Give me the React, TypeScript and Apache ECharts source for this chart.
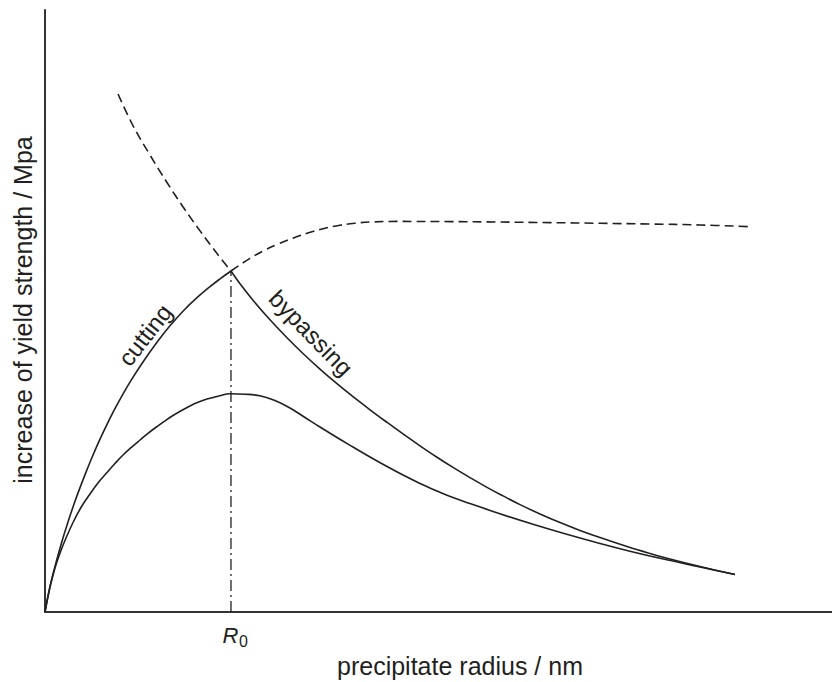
import React, { useEffect, useRef } from "react";
import * as echarts from "echarts";

// Critical radius where the cutting and bypassing mechanisms meet
const R0 = 23.63;
const PEAK = 56.64;

// Shearing (cutting) mechanism, solid up to R0
const cutting: number[][] = [
  [0, 0], [0.64, 4.27], [1.4, 8.21], [2.16, 11.76], [2.8, 14.47], [3.68, 17.91],
  [4.45, 20.66], [5.34, 23.65], [6.1, 26.08], [6.99, 28.72], [7.88, 31.18], [8.64, 33.16],
  [9.53, 35.33], [11.05, 38.72], [12.71, 42.03], [14.23, 44.82], [15.88, 47.54],
  [17.53, 49.97], [19.31, 52.21], [20.97, 54.05], [22.24, 55.33], [23.63, 56.64],
];

// Cutting beyond R0 (not active)
const cuttingBeyond: number[][] = [
  [23.63, 56.64], [24.78, 57.67], [26.05, 58.75], [27.7, 59.97], [29.48, 61.05],
  [31.39, 62.04], [33.29, 62.92], [35.32, 63.67], [37.48, 64.25], [39.39, 64.58],
  [41.3, 64.78], [44.73, 64.88], [51.46, 64.85], [57.81, 64.78], [64.17, 64.68],
  [70.52, 64.57], [76.87, 64.45], [83.23, 64.29], [89.33, 64.02],
];

// Orowan bypassing mechanism, solid beyond R0
const bypassing: number[][] = [
  [23.63, 56.64], [24.78, 54.52], [26.43, 51.79], [28.59, 48.54], [30.75, 45.55],
  [32.78, 42.94], [34.94, 40.35], [37.1, 37.92], [39.14, 35.76], [41.3, 33.59],
  [43.46, 31.5], [45.49, 29.58], [47.65, 27.61], [49.81, 25.71], [51.84, 24.02],
  [54.0, 22.33], [56.16, 20.71], [58.2, 19.29], [60.36, 17.84], [62.9, 16.28],
  [65.44, 14.85], [67.98, 13.55], [70.52, 12.36], [73.95, 10.88], [76.87, 9.73],
  [79.03, 8.94], [83.23, 7.56], [87.67, 6.23],
];

// Bypassing below R0 (not active)
const bypassingBelow: number[][] = [
  [9.28, 86.05], [11.18, 80.8], [13.34, 75.91], [15.5, 71.35], [17.53, 67.31],
  [19.7, 63.31], [21.86, 59.55], [23.63, 56.64],
];

// Overall strengthening with a size distribution
const combined: number[][] = [
  [0, 0], [0.64, 4.15], [1.27, 7.31], [1.91, 9.8], [2.67, 12.29], [3.56, 14.87],
  [4.57, 17.36], [5.72, 19.6], [6.73, 21.43], [7.88, 23.17], [8.89, 24.67], [9.91, 26.08],
  [11.05, 27.44], [12.07, 28.57], [13.09, 29.68], [14.23, 30.81], [15.25, 31.76],
  [16.26, 32.64], [17.41, 33.52], [18.42, 34.22], [19.44, 34.83], [20.58, 35.37],
  [21.98, 35.85], [23.51, 36.25], [25.41, 36.18], [27.32, 35.91], [29.22, 35.13],
  [31.13, 33.89], [33.04, 32.31], [34.94, 30.73], [37.1, 28.99], [39.14, 27.41],
  [41.3, 25.75], [43.46, 24.17], [45.49, 22.76], [47.65, 21.35], [49.81, 20.1],
  [51.84, 19.02], [54.0, 18.02], [57.81, 16.31], [62.01, 14.57], [66.07, 12.99],
  [70.52, 11.38], [74.33, 10.1], [78.14, 8.92], [83.23, 7.48], [87.67, 6.23],
];

const INK = "#231f20";
const FONT = "'Liberation Sans', Arial, Helvetica, sans-serif";

function curve(data: number[][], dashed: boolean) {
  return {
    type: "line",
    data,
    showSymbol: false,
    smooth: 0.4,
    silent: true,
    lineStyle: { color: INK, width: 1.6, type: dashed ? [9, 5] : "solid" },
  };
}

function label(text: string, x: number, y: number, size: number, extra: any = {}) {
  return {
    type: "text",
    x,
    y,
    rotation: extra.rotation || 0,
    style: {
      text,
      fill: INK,
      fontFamily: FONT,
      fontSize: size,
      fontStyle: extra.italic ? "italic" : "normal",
      align: "center",
      verticalAlign: "middle",
    },
  };
}

export default function App() {
  const ref = useRef<HTMLDivElement>(null);

  useEffect(() => {
    if (!ref.current) return;
    const chart = echarts.init(ref.current, undefined, { renderer: "svg" });
    chart.setOption({
      animation: false,
      backgroundColor: "#ffffff",
      grid: { left: 45, top: 10, right: 0, bottom: 70 },
      xAxis: {
        type: "value",
        min: 0,
        max: 100,
        axisLine: { show: true, lineStyle: { color: "#333", width: 2 } },
        axisTick: { show: false },
        axisLabel: { show: false },
        splitLine: { show: false },
      },
      yAxis: {
        type: "value",
        min: 0,
        max: 100,
        axisLine: { show: true, lineStyle: { color: "#333", width: 2 } },
        axisTick: { show: false },
        axisLabel: { show: false },
        splitLine: { show: false },
      },
      series: [
        curve(cutting, false),
        curve(cuttingBeyond, true),
        curve(bypassing, false),
        curve(bypassingBelow, true),
        curve(combined, false),
        {
          type: "line",
          data: [[R0, 0], [R0, PEAK]],
          showSymbol: false,
          silent: true,
          lineStyle: { color: INK, width: 1.3, type: [11, 4, 2, 4] },
        },
      ],
      graphic: [
        label("increase of yield strength / Mpa", 23, 310, 25, { rotation: Math.PI / 2 }),
        label("precipitate radius / nm", 460, 666, 25),
        label("R", 230.5, 635.5, 22, { italic: true }),
        label("0", 243.5, 641, 16),
        label("cutting", 145, 335, 24, { rotation: (52 * Math.PI) / 180 }),
        label("bypassing", 311, 333, 24, { rotation: (-46 * Math.PI) / 180 }),
      ],
    });
    return () => chart.dispose();
  }, []);

  return (
    <div
      ref={ref}
      style={{ position: "fixed", left: 0, top: 0, width: 832, height: 682 }}
    />
  );
}
